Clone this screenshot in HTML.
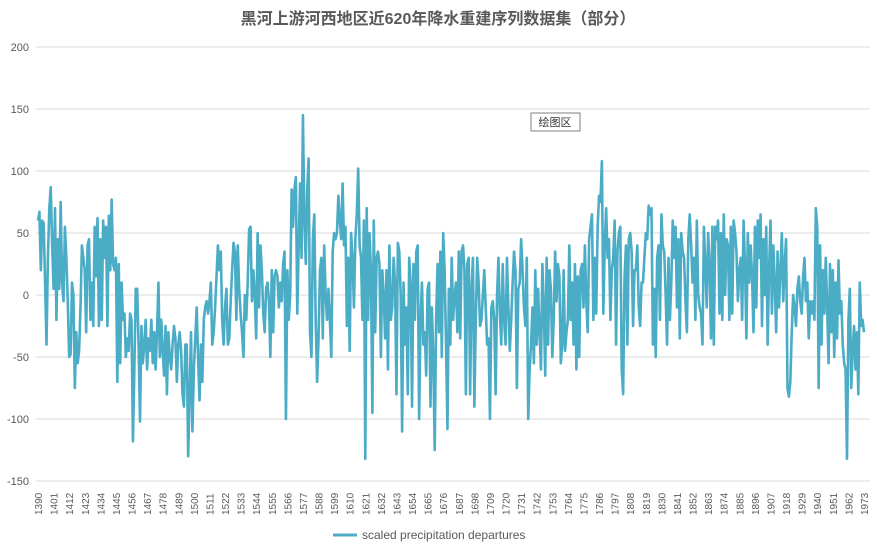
<!DOCTYPE html>
<html><head><meta charset="utf-8">
<style>
body{margin:0;background:#fff;}
svg{display:block;font-family:"Liberation Sans","Noto Sans CJK SC",sans-serif;}
</style></head>
<body>
<svg id="chart" width="877" height="548">
  <text x="438" y="24" text-anchor="middle" font-size="16" font-weight="bold" fill="#595959">黑河上游河西地区近620年降水重建序列数据集（部分）</text>
  <g id="grid"></g>
  <g id="yaxis"></g>
  <g id="xaxis"></g>
  <g id="series"></g>
  <g>
    <rect x="531" y="113" width="49" height="18" fill="#fff" stroke="#7f7f7f" stroke-width="1"/>
    <text x="555" y="126" text-anchor="middle" font-size="11" fill="#333">绘图区</text>
  </g>
  <g>
    <line x1="333" y1="535" x2="357" y2="535" stroke="#4bacc6" stroke-width="3"/>
    <text x="362" y="539" font-size="12" fill="#595959">scaled precipitation departures</text>
  </g>
</svg>
<script>
const startYear = 1390;
const endYear = 1973;
const yTicks = [200,150,100,50,0,-50,-100,-150];
const seg1 = [60,67,20,60,58,10,-40,30,70,87,40, 5,70,-20,45,5,75,10,-5,55,30,-5, -50,-48,10,0,-75,-30,-55,-45,-10,40,30, 20,-30,40,45,-20,10,-25,55,15,62,-25, 45,-20,60,30,55,-25,64,20,77,25,20];
const seg2 = [30,-70,25,-55,10,-20,-15,-50,-35,-45,-15, -20,-118,-60,5,5,-40,-102,-25,-55,-40,-20, -60,-35,-45,-20,-55,-30,-60,-30,10,-50,-20, -45,-65,-25,-80,-30,-50,-60,-40,-25,-35,-70, -40,-30,-45,-80,-90,-40,-40,-130,-80,-30,-110, -60,-35,-10,-50,-85,-40,-70,-20,-10,-5,-15, -5,10,-40,-30,-10,15,40,20,35,-20,-40];
const seg3 = [-10,5,-40,-35,-5,20,42,35,-20,40,5, -15,-30,-50,0,-20,10,53,55,-5,20,0, -35,50,-10,40,20,-15,-30,5,10,-5,-50, 20,-30,15,20,15,-10,10,-5,25,35,-100, 20,-20,0,85,55,85,95,-15,40,90,30, 145, 60,25,85,110,-30,-50,45,65,-20,-70,-35];
const seg4 = [20,30,-35,40,0,-20,5,-20,-50,35,50, 45,50,80,60,45,90,40,55,-25,30,-45, 50,30,-10,45,65,102,40,30,-20,60,-132, 70,-20,50,20,-95,60,-30,30,35,25,-50, 20,0,-35,20,-60,40,-20,-10,30,10,-80, 42,35,0,-110,10,-40,-10,-80,30,10,-90];
const seg5 = [25,-20,35,40,-100,-20,10,-40,-30,-65,5, 10,-90,-10,-50,-125,-20,25,-30,35,-50,50, 20,-40,-108,5,-40,30,-20,0,10,-30,35, -35,35,40,20,-80,25,30,-80,5,30,-90, -20,30,10,-25,-20,0,20,-10,-40,-35,-100, -10,-5,-20,-80,0,30,-15,-40,25,-20,-40];
const seg6 = [30,-10,-45,-20,10,35,20,-75,5,10,45, 20,-10,-25,30,-100,-60,-40,-10,-55,20,-40, 5,-30,-60,25,-10,-65,30,-40,20,5,-50, -20,35,-5,25,15,-55,-40,20,-45,-30,-20, 40,-20,10,-40,25,-60,15,-50,20,25,-10, 40,-5,-30,45,55,65,-20,30,-15,55,80];
const seg7 = [75,108,-15,40,70,30,45,-20,20,30,60, -40,35,50,55,-60,-80,15,40,-40,45,50, 35,-25,20,20,40,-10,-25,10,10,30,50, 45,72,65,70,-40,5,-50,30,40,-20,65, 40,35,0,-40,30,-20,10,60,30,55,-10, 45,-35,50,35,30,-5,-30,45,65,40,10];
const seg8 = [30,-20,60,0,-10,-15,-40,55,25,-10,50, 25,-35,55,-40,55,45,60,-15,50,-20,65, 0,45,40,-20,55,-15,60,50,35,-5, 20,30,-20,60,25,-35,50,10,40,15,-30, 55,-10,60,30,65,-25,45,0,55,-40,20];
const seg9 = [60,-15,40,10,-30,35,-10,20,50,-5,25, 45,-75,-82,-70,-30,0,-10,-25,5,15,-5, -15,15,30,-5,10,-35,-5,-15,-5,-20,70, 55,-75,40,-40,20,-15,30,-10,-55,25,-30, 20,-50,10,-35,28,-15,-5,-40,-55,-60,-132, -20,5,-75,-45,-25,-60,-30,-80,10,-25,-20,-30];
const values = [].concat(seg1,seg2,seg3,seg4,seg5,seg6,seg7,seg8,seg9);

const NS = "http://www.w3.org/2000/svg";
const x0 = 38, x1 = 864, yTop = 47, yBot = 481, vMax = 200, vMin = -150;
function xScale(i, n){ return x0 + (x1 - x0) * i / (n - 1); }
function yearX(yr){ return x0 + (x1 - x0) * (yr - startYear) / (endYear - startYear); }
function yScale(v){ return yBot - (v - vMin) / (vMax - vMin) * (yBot - yTop); }

const grid = document.getElementById('grid');
const yaxis = document.getElementById('yaxis');
yTicks.forEach(t => {
  const l = document.createElementNS(NS,'line');
  l.setAttribute('x1',36); l.setAttribute('x2',870);
  l.setAttribute('y1',yScale(t)); l.setAttribute('y2',yScale(t));
  l.setAttribute('stroke','#d9d9d9'); l.setAttribute('stroke-width','1');
  
  
  grid.appendChild(l);
  const tx = document.createElementNS(NS,'text');
  tx.setAttribute('x',29); tx.setAttribute('y',yScale(t)+4);
  tx.setAttribute('text-anchor','end'); tx.setAttribute('font-size','11'); tx.setAttribute('fill','#595959');
  tx.textContent = t;
  
  
  yaxis.appendChild(tx);
});

const xaxis = document.getElementById('xaxis');
for (let yr = startYear; yr <= endYear; yr += 11) {
  const x = yearX(yr);
  const tx = document.createElementNS(NS,'text');
  tx.setAttribute('transform','translate('+(x+4)+',515) rotate(-90)');
  tx.setAttribute('font-size','10'); tx.setAttribute('fill','#595959');
  tx.textContent = yr;
  
  
  xaxis.appendChild(tx);
}

const n = values.length;
let d = '';
values.forEach((v,i) => { d += (i ? 'L' : 'M') + xScale(i,n).toFixed(2) + ' ' + yScale(v).toFixed(2); });
const p = document.createElementNS(NS,'path');
p.setAttribute('d', d);
p.setAttribute('fill','none'); p.setAttribute('stroke','#4bacc6');
p.setAttribute('stroke-width','2.6'); p.setAttribute('stroke-linejoin','round');


document.getElementById('series').appendChild(p);
</script>
</body></html>
